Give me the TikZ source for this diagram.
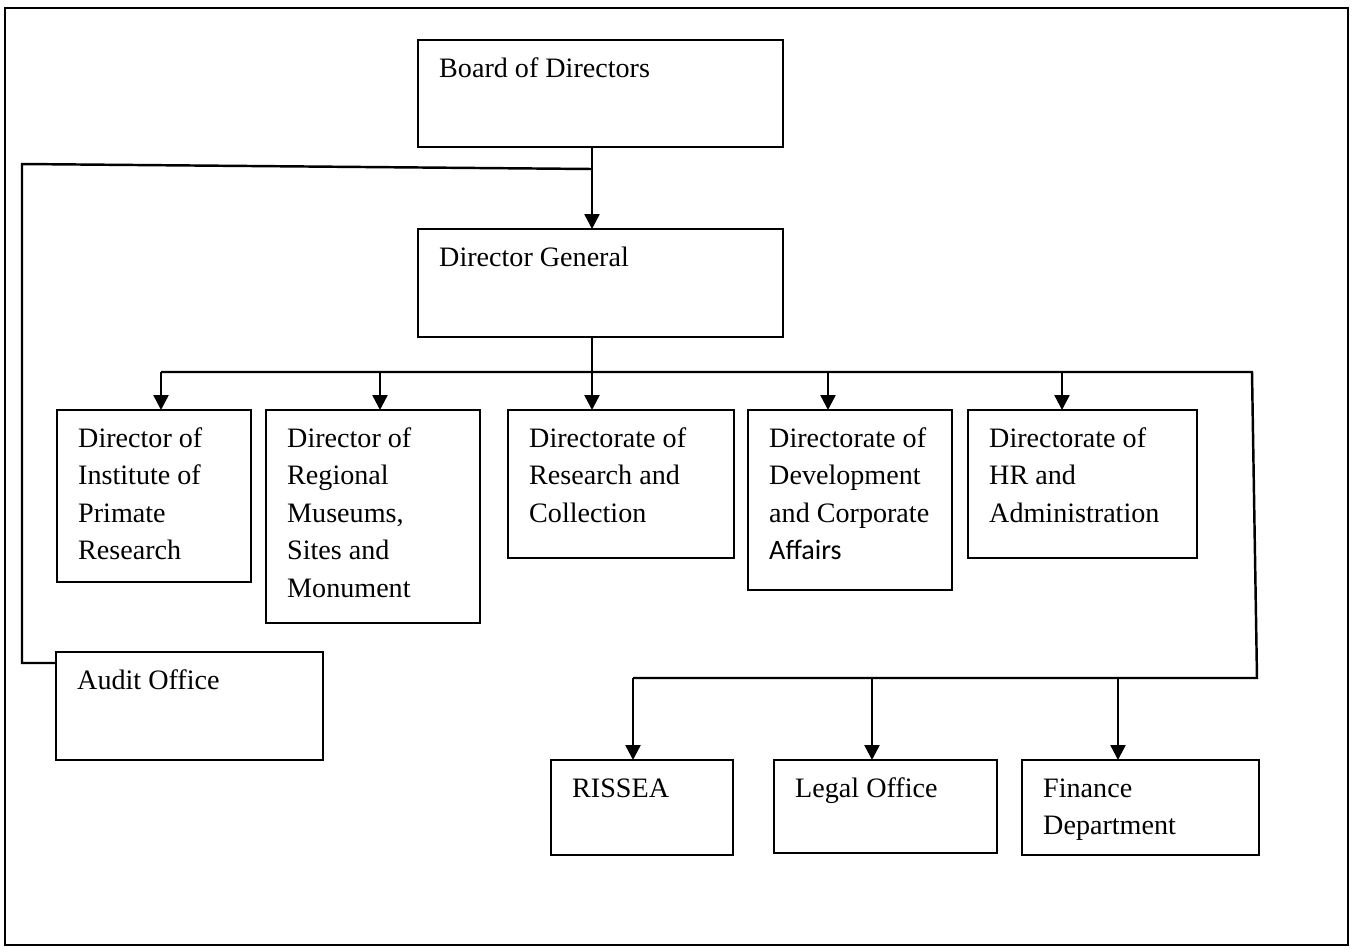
\documentclass[tikz,border=0pt]{standalone}
\usepackage{fontspec}
\setmainfont{Liberation Serif}
\newfontfamily\calfont{Carlito}
\usetikzlibrary{arrows.meta}
\newcommand\OrgBox[6]{%
  \node[orgbox, minimum width={(#4-#2)*0.02cm}, minimum height={(#5-#3)*0.02cm}] (#1) at ({(#2+#4)/2},{(#3+#5)/2}) {};
  \node[orgtxt] (#1-t) at ({#2+20},{#3+37}) {\parbox[t]{6cm}{\raggedright #6}};
}
\begin{document}
\begin{tikzpicture}[x=0.02cm,y=-0.02cm,
  line width=1.4pt,
  orgbox/.style={draw, rectangle, inner sep=0pt, outer sep=0pt},
  orgtxt/.style={anchor=base west, inner sep=0pt, font=\fontsize{16}{21.4}\selectfont},
  arr/.style={-{Triangle[length=8.5pt,width=8.5pt]}}]
\useasboundingbox (0,0) rectangle (1353,951);
\draw (5,8) rectangle (1348,945);
% boxes
\OrgBox{board}{418}{40}{783}{147}{Board of Directors}
\OrgBox{dg}{418}{229}{783}{337}{Director General}
\OrgBox{d1}{57}{410}{251}{582}{Director of\\Institute of\\Primate\\Research}
\OrgBox{d2}{266}{410}{480}{623}{Director of\\Regional\\Museums,\\Sites and\\Monument}
\OrgBox{d3}{508}{410}{734}{558}{Directorate of\\Research and\\Collection}
\OrgBox{d4}{748}{410}{952}{590}{Directorate of\\Development\\and Corporate\\{\calfont Affairs}}
\OrgBox{d5}{968}{410}{1197}{558}{Directorate of\\HR and\\Administration}
\OrgBox{audit}{56}{652}{323}{760}{Audit Office}
\OrgBox{rissea}{551}{760}{733}{855}{RISSEA}
\OrgBox{legal}{774}{760}{997}{853}{Legal Office}
\OrgBox{fin}{1022}{760}{1259}{855}{Finance\\Department}
% junctions
\coordinate (j1) at (592,169);
\coordinate (lc) at (22,164);
\coordinate (la) at (22,663);
\coordinate (b0) at (592,372);
\coordinate (t1) at (161,372);
\coordinate (t2) at (380,372);
\coordinate (t4) at (828,372);
\coordinate (t5) at (1062,372);
\coordinate (br) at (1252,372);
\coordinate (br2) at (1257,678);
\coordinate (u1) at (633,678);
\coordinate (u2) at (872,678);
\coordinate (u3) at (1118,678);
% connectors
\draw[arr] (j1 |- board.south) -- (j1 |- dg.north);
\draw (j1) -- (lc) -- (la) -- (la -| audit.west);
\draw (b0 |- dg.south) -- (b0);
\draw (t1) -- (br) -- (br2) -- (u1);
\draw[arr] (t1) -- (t1 |- d1.north);
\draw[arr] (t2) -- (t2 |- d2.north);
\draw[arr] (b0) -- (b0 |- d3.north);
\draw[arr] (t4) -- (t4 |- d4.north);
\draw[arr] (t5) -- (t5 |- d5.north);
\draw[arr] (u1) -- (u1 |- rissea.north);
\draw[arr] (u2) -- (u2 |- legal.north);
\draw[arr] (u3) -- (u3 |- fin.north);
\end{tikzpicture}
\end{document}
